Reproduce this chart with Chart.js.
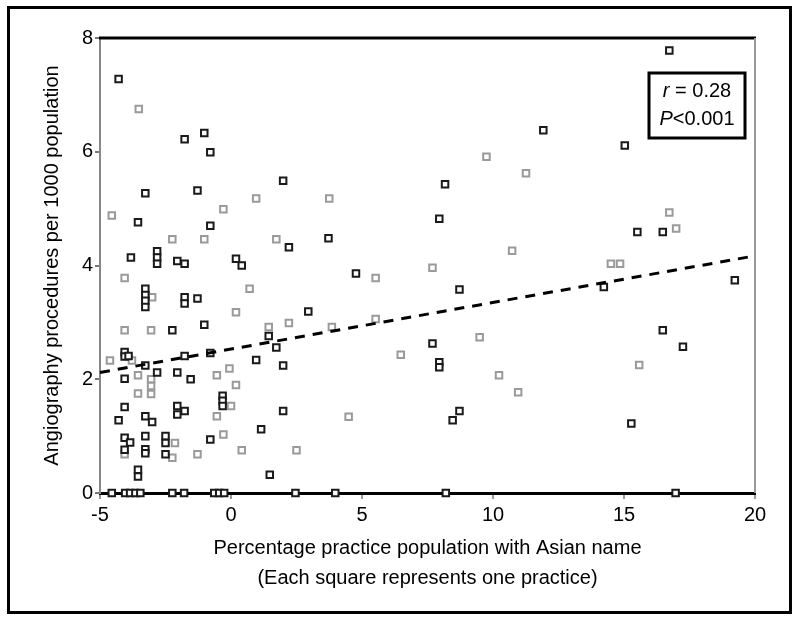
<!DOCTYPE html>
<html><head><meta charset="utf-8">
<script src="https://cdn.jsdelivr.net/npm/chart.js@4.4.1/dist/chart.umd.min.js"></script>
<style>html,body{margin:0;padding:0;background:#fff}#wrap{width:800px;height:623px;position:relative}</style>
</head><body><div id="wrap"><canvas id="c" width="800" height="623"></canvas></div>
<script>
const xTicks = [-5, 0, 5, 10, 15, 20];
const yTicks = [0, 2, 4, 6, 8];
const xTitle = ['Percentage practice population with Asian name', '(Each square represents one practice)'];
const yTitle = 'Angiography procedures per 1000 population';
const statR = '0.28';
const statP = '<0.001';

// darker squares
const darkX = [-4.29,-1.02,-0.79,-1.77,-3.27,-1.28,1.99,-0.79,-3.55,2.21,-3.82,-2.82,-2.82,-2.82,-2.05,-1.77,0.19,0.41,
  -3.27,-3.27,-3.27,-3.27,-1.77,-1.77,-1.28,2.95,-1.02,-2.24,1.44,-4.06,-4.06,-3.91,-3.27,-2.82,-2.05,-1.77,-0.79,0.96,1.73,1.99,
  -4.06,-1.54,-0.32,-0.32,-0.32,-4.06,-2.05,-2.05,-1.77,1.99,-4.29,-3.27,-3.01,1.15,-4.06,-3.85,-4.06,-3.27,-3.27,-3.27,
  -2.50,-2.50,-2.50,-0.79,-3.55,-3.55,1.48,3.72,8.17,7.95,11.92,4.77,8.72,7.95,7.95,8.72,8.46,14.23,19.23,16.48,17.25,
  15.51,16.48,16.73,15.03,7.69,15.28,
  -4.55,-4.04,-3.85,-3.65,-3.46,-2.24,-1.79,-0.64,-0.45,-0.26,2.46,3.98,8.20,16.97];
const darkY = [7.28,6.33,5.99,6.22,5.27,5.32,5.49,4.70,4.76,4.32,4.14,4.25,4.14,4.03,4.08,4.03,4.12,4.00,
  3.59,3.48,3.38,3.27,3.44,3.33,3.42,3.19,2.96,2.86,2.76,2.48,2.40,2.41,2.24,2.12,2.12,2.41,2.46,2.34,2.56,2.24,
  2.01,2.00,1.71,1.62,1.53,1.51,1.53,1.38,1.44,1.44,1.28,1.35,1.25,1.12,0.97,0.89,0.76,1.00,0.77,0.70,
  1.00,0.88,0.68,0.94,0.41,0.29,0.32,4.48,5.43,4.82,6.38,3.86,3.58,2.30,2.21,1.44,1.28,3.62,3.74,2.86,2.57,
  4.59,4.59,7.78,6.11,2.63,1.22,
  0,0,0,0,0,0,0,0,0,0,0,0,0,0];

// lighter squares
const lightX = [-3.52,0.96,-4.55,-0.29,-2.24,-1.02,1.73,-4.06,0.71,-3.01,0.19,-4.06,-3.05,1.44,2.21,-4.62,-3.78,-3.55,-3.05,
  -0.54,-0.06,0.19,-3.05,-3.05,-3.55,0.00,-0.54,-2.14,-2.24,-1.28,-0.29,0.41,2.50,9.75,11.26,3.75,10.73,7.69,5.52,3.85,
  5.52,6.48,10.23,10.96,4.49,16.73,16.99,14.50,14.85,15.58,9.49,-4.06];
const lightY = [6.75,5.18,4.88,4.99,4.46,4.46,4.46,3.78,3.59,3.44,3.18,2.86,2.86,2.92,2.99,2.33,2.33,2.07,2.00,
  2.07,2.19,1.90,1.88,1.74,1.75,1.53,1.35,0.88,0.62,0.68,1.03,0.75,0.75,5.91,5.62,5.18,4.26,3.96,3.78,2.92,
  3.06,2.43,2.07,1.77,1.34,4.93,4.65,4.03,4.03,2.25,2.74,0.68];

// regression line end points
const trendX = [-5, 20];
const trendY = [2.12, 4.17];

const FONT = "'Liberation Sans', Arial, Helvetica, sans-serif";
const pts = (xs, ys) => xs.map((x, i) => ({x, y: ys[i]}));

const framePlugin = {
  id: 'frame',
  beforeDraw(chart) {
    const {ctx, width, height} = chart;
    ctx.save(); ctx.fillStyle = '#fff'; ctx.fillRect(0, 0, width, height); ctx.restore();
  },
  afterDatasetsDraw(chart) {
    const {ctx, chartArea: a} = chart;
    ctx.save();
    ctx.lineCap = 'butt';
    ctx.strokeStyle = '#000'; ctx.lineWidth = 3;
    ctx.beginPath(); ctx.moveTo(a.left - 1, a.top); ctx.lineTo(a.right + 1, a.top); ctx.stroke();
    ctx.strokeStyle = '#999'; ctx.lineWidth = 2;
    ctx.beginPath(); ctx.moveTo(a.right, a.top); ctx.lineTo(a.right, a.bottom); ctx.stroke();
    // statistics box
    const bw = 96, bh = 65;
    const bx = a.right - 10 - bw, by = a.top + 35;
    ctx.fillStyle = '#fff'; ctx.fillRect(bx, by, bw, bh);
    ctx.strokeStyle = '#000'; ctx.lineWidth = 3; ctx.strokeRect(bx, by, bw, bh);
    const cx = bx + bw / 2;
    const drawLine = (it, rest, y) => {
      ctx.font = 'italic 20px ' + FONT; const w1 = ctx.measureText(it).width;
      ctx.font = '20px ' + FONT; const w2 = ctx.measureText(rest).width;
      let x0 = cx - (w1 + w2) / 2;
      ctx.fillStyle = '#000'; ctx.textBaseline = 'middle'; ctx.textAlign = 'left';
      ctx.font = 'italic 20px ' + FONT; ctx.fillText(it, x0, y);
      ctx.font = '20px ' + FONT; ctx.fillText(rest, x0 + w1, y);
    };
    drawLine('r', ' = ' + statR, by + 18);
    drawLine('P', statP, by + 46);
    // outer frame
    ctx.strokeStyle = '#000'; ctx.lineWidth = 3;
    ctx.strokeRect(8.5, 7.5, 782, 605);
    ctx.restore();
  }
};

new Chart(document.getElementById('c'), {
  type: 'scatter',
  data: {
    datasets: [
      { type: 'line', data: pts(trendX, trendY), borderColor: '#000', borderWidth: 3, borderDash: [10, 8],
        pointRadius: 0, fill: false, clip: false },
      { data: pts(darkX, darkY), pointStyle: 'rect', pointRadius: 4.6, borderWidth: 2,
        borderColor: '#1a1a1a', backgroundColor: '#fff', clip: false },
      { data: pts(lightX, lightY), pointStyle: 'rect', pointRadius: 4.6, borderWidth: 2,
        borderColor: '#9a9a9a', backgroundColor: '#fff', clip: false }
    ]
  },
  options: {
    responsive: false, animation: false, devicePixelRatio: 1,
    layout: { padding: { left: 0, right: 45, top: 38, bottom: 0 } },
    plugins: { legend: { display: false }, tooltip: { enabled: false } },
    scales: {
      x: {
        type: 'linear', min: -5, max: 20,
        afterBuildTicks: s => { s.ticks = xTicks.map(v => ({value: v})); },
        afterFit: s => { s.height = 130; },
        grid: { drawOnChartArea: false, drawTicks: true, tickLength: 6, color: '#999', lineWidth: 2 },
        border: { display: true, color: '#000', width: 3 },
        ticks: { color: '#000', padding: 4, maxRotation: 0, font: { family: FONT, size: 20 } },
        title: { display: true, text: xTitle, color: '#000', font: { family: FONT, size: 20, lineHeight: 1.5 },
                 padding: { top: 0, bottom: 30 } }
      },
      y: {
        type: 'linear', min: 0, max: 8,
        afterBuildTicks: s => { s.ticks = yTicks.map(v => ({value: v})); },
        afterFit: s => { s.width = 100; },
        grid: { drawOnChartArea: false, drawTicks: true, tickLength: 5, color: '#777', lineWidth: 2 },
        border: { display: true, color: '#888', width: 2 },
        ticks: { color: '#000', padding: 2, font: { family: FONT, size: 20 } },
        title: { display: true, text: yTitle, color: '#000', font: { family: FONT, size: 20 },
                 padding: { top: 40, bottom: 0 } }
      }
    }
  },
  plugins: [framePlugin]
});
</script>
</body></html>
